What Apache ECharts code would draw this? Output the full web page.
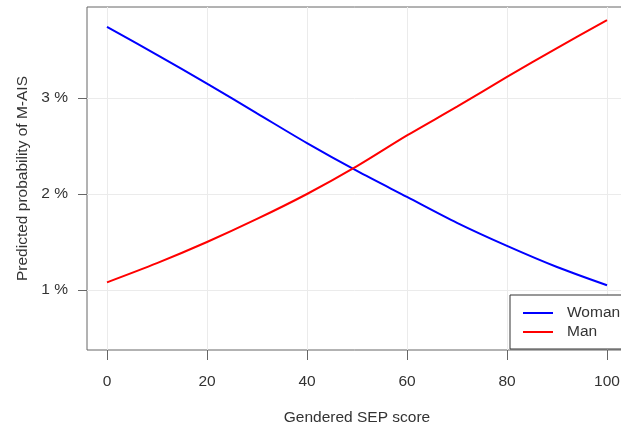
<!DOCTYPE html>
<html>
<head>
<meta charset="utf-8">
<script src="https://cdn.jsdelivr.net/npm/echarts@6/dist/echarts.min.js"></script>
<style>
html,body{margin:0;padding:0;background:#fff;}
#chart{width:621px;height:424px;}
</style>
</head>
<body>
<div id="chart"></div>
<script>
const sepScores = [0, 10, 20, 30, 40, 50, 60, 70, 80, 90, 100];
const womanValues = [3.74, 3.45, 3.15, 2.84, 2.53, 2.24, 1.97, 1.70, 1.46, 1.24, 1.05];
const manValues = [1.08, 1.28, 1.50, 1.74, 2.00, 2.29, 2.61, 2.91, 3.22, 3.52, 3.81];
const xTicks = [0, 20, 40, 60, 80, 100];
const yTicks = [1, 2, 3];

const font = 'Liberation Sans, Arial, sans-serif';
const fs = 15.5;
const chart = echarts.init(document.getElementById('chart'), null, {renderer: 'canvas'});
chart.setOption({
  animation: false,
  backgroundColor: '#fff',
  grid: {
    left: 87, top: 7, width: 540, height: 343,
    outerBoundsMode: 'none', containLabel: false,
    show: true, borderColor: '#666', borderWidth: 1, backgroundColor: 'transparent'
  },
  xAxis: {
    type: 'value', min: -4, max: 104,
    name: 'Gendered SEP score', nameLocation: 'middle', nameGap: 60,
    nameTextStyle: {fontFamily: font, fontSize: fs, color: '#333'},
    axisLine: {show: false, onZero: false},
    axisTick: {show: true, length: 10, customValues: xTicks, lineStyle: {color: '#666', width: 1}},
    axisLabel: {customValues: xTicks, margin: 24, fontFamily: font, fontSize: fs, color: '#333'},
    splitLine: {show: true, lineStyle: {color: '#ebebeb', width: 1}}
  },
  yAxis: {
    type: 'value', min: 0.375, max: 3.948,
    name: 'Predicted probability of M-AIS', nameLocation: 'middle', nameGap: 53,
    nameTextStyle: {fontFamily: font, fontSize: fs, color: '#333'},
    axisLine: {show: false, onZero: false},
    axisTick: {show: true, length: 9, customValues: yTicks, lineStyle: {color: '#666', width: 1}},
    axisLabel: {customValues: yTicks, margin: 19, fontFamily: font, fontSize: fs, color: '#333',
      formatter: v => v + ' %'},
    splitLine: {show: true, lineStyle: {color: '#ebebeb', width: 1}}
  },
  legend: {
    orient: 'vertical', left: 510, top: 295,
    padding: [10, 40, 9, 13], itemGap: 3,
    backgroundColor: '#fff', borderColor: '#333', borderWidth: 1, borderRadius: 0,
    icon: 'rect', itemWidth: 30, itemHeight: 2,
    textStyle: {fontFamily: font, fontSize: fs, color: '#333', lineHeight: 16, padding: [0, 0, 0, 9]},
    data: ['Woman', 'Man']
  },
  series: [
    {name: 'Woman', type: 'line', data: sepScores.map((x, i) => [x, womanValues[i]]),
     smooth: 0.3, symbol: 'none', lineStyle: {color: '#0000ff', width: 2}, itemStyle: {color: '#0000ff'}},
    {name: 'Man', type: 'line', data: sepScores.map((x, i) => [x, manValues[i]]),
     smooth: 0.3, symbol: 'none', lineStyle: {color: '#ff0000', width: 2}, itemStyle: {color: '#ff0000'}}
  ]
});
</script>
</body>
</html>
